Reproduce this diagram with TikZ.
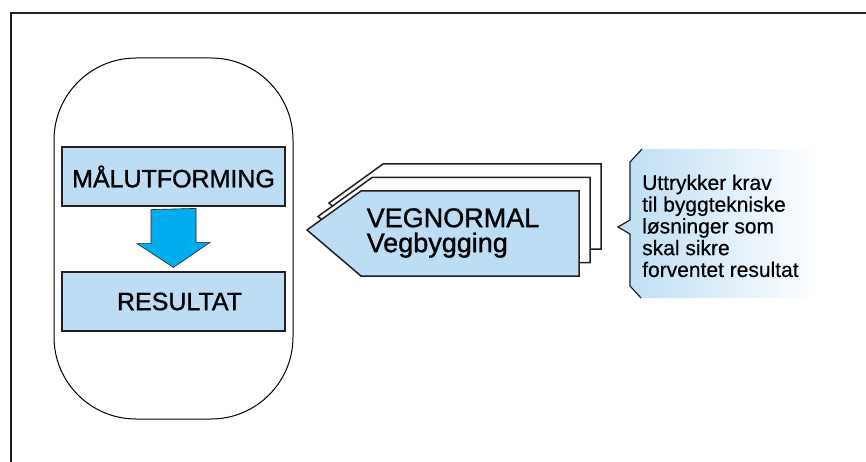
\documentclass[tikz,border=0pt]{standalone}
\usepackage{fontspec}
\setmainfont{Liberation Sans}
\newfontfamily\halvfet[FakeBold=1.2]{Liberation Sans}
\newfontfamily\lettfet[FakeBold=0.4]{Liberation Sans}
\usetikzlibrary{calc}
\definecolor{lysblaa}{HTML}{BCDDF3}
\definecolor{pilblaa}{HTML}{00AEEF}
\definecolor{strek}{HTML}{231F20}

\begin{document}
\begin{tikzpicture}[x=1pt, y=-1pt,
		boks/.style={draw=strek, line width=1.2pt, fill=lysblaa, minimum width=223pt, minimum height=59pt, inner sep=0pt, font=\halvfet\fontsize{25}{25}\selectfont},
		ark/.style={draw=strek, line width=1.5pt, line join=miter}]
		%%%%% START %%%%%
		\useasboundingbox (0, 0) rectangle (866, 462);
		
		\draw[line width=2.2pt, color=strek] (11, 470) -- (11, 13) -- (870, 13);
		
		\draw[line width=1pt, rounded corners=82pt] (54, 58) rectangle (293, 419);
		
		\node[boks] (malut) at (173.5, 176.5) {MÅLUTFORMING};
		\node[boks] (resultat) at (173.5, 301.5) {\hspace*{12pt}RESULTAT};
		\draw[fill=pilblaa, draw=strek, line width=0.6pt] ($(malut.south)+(-22.5, 3)$) -- ++(0, 34) -- ++(-14, 0) -- ($(resultat.north)+(0, -4)$) -- ++(36.5, -25) -- ++(-14, 0) -- ++(0, -34) -- cycle;
		
		\foreach \d/\farge in {2/white, 1/white, 0/lysblaa}
			\draw[ark, fill=\farge, shift={(11*\d, -13.5*\d)}] (307, 230) -- (361, 191) -- (579, 191) -- (579, 276) -- (361, 276) -- cycle;
		\node[align=left, font=\halvfet\fontsize{27}{25}\selectfont] (vegnormal) at (453, 233) {VEGNORMAL\\Vegbygging};
		
		\shade[left color=lysblaa, right color=white] (642, 149) -- (630, 162) -- (630, 220) -- (618, 227) -- (630, 234) -- (630, 286) -- (641, 298) -- (822, 298) -- (822, 149) -- cycle;
		\draw[line width=1.2pt, color=strek] (642, 149) -- (630, 162) -- (630, 220) -- (618, 227) -- (630, 234) -- (630, 286) -- (641, 298);
		\node[anchor=north west, inner sep=0pt, align=left, font=\lettfet\fontsize{21}{21.75}\selectfont] (forklaring) at (642, 174.5) {Uttrykker krav\\til byggtekniske\\løsninger som\\skal sikre\\forventet resultat};
		
		%%%%% END %%%%%
	\end{tikzpicture}
\end{document}
